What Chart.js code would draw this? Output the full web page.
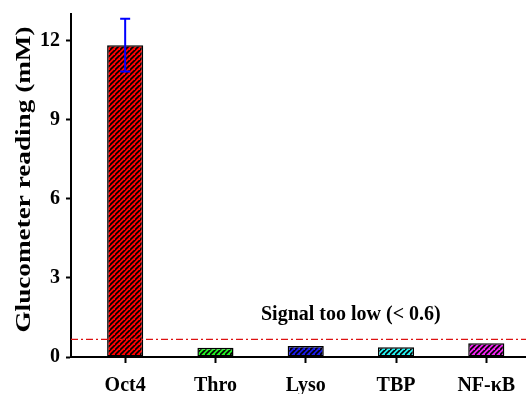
<!DOCTYPE html>
<html>
<head>
<meta charset="utf-8">
<script src="https://cdn.jsdelivr.net/npm/chart.js@4/dist/chart.umd.min.js"></script>
<style>
html,body{margin:0;padding:0;background:#fff;}
#wrap{width:526px;height:394px;position:relative;}
</style>
</head>
<body>
<div id="wrap"><canvas id="c" width="526" height="394"></canvas></div>
<script>
const categories = ['Oct4', 'Thro', 'Lyso', 'TBP', 'NF-\u03BAB'];
const readings = [11.82, 0.35, 0.42, 0.37, 0.52];
const errors = [1.0, 0, 0, 0, 0];
const barColors = ['#ff0000', '#22ee22', '#1a1ae6', '#22eeee', '#ee22ee'];
const yTicks = [0, 3, 6, 9, 12];
const yMax = 13;
const xRange = [-0.6, 4.44];
const thresholdValue = 0.67;
const thresholdLabel = 'Signal too low (< 0.6)';
const thresholdLabelPos = [2.5, 1.6];
const yTitle = 'Glucometer reading (mM)';

const FONT = '"Liberation Serif", "Times New Roman", serif';

function hatch(color) {
  const s = 5;
  const cv = document.createElement('canvas');
  cv.width = s; cv.height = s;
  const g = cv.getContext('2d');
  g.fillStyle = color;
  g.fillRect(0, 0, s, s);
  g.strokeStyle = '#000';
  g.lineWidth = 1.6;
  g.beginPath();
  g.moveTo(-1, s + 1); g.lineTo(s + 1, -1);
  g.moveTo(-1 - s, s + 1); g.lineTo(1, -1);
  g.moveTo(s - 1, 2 * s + 1); g.lineTo(2 * s + 1, s - 1);
  g.stroke();
  return g.createPattern(cv, 'repeat');
}

const ctx = document.getElementById('c').getContext('2d');

const extras = {
  id: 'extras',
  afterDatasetsDraw(chart) {
    const c = chart.ctx;
    const xs = chart.scales.x, ys = chart.scales.y;
    const area = chart.chartArea;
    // threshold line
    c.save();
    c.strokeStyle = '#dd1111';
    c.lineWidth = 1.2;
    c.setLineDash([7, 3, 2, 3]);
    const ty = ys.getPixelForValue(thresholdValue);
    c.beginPath();
    c.moveTo(area.left, ty); c.lineTo(area.right, ty);
    c.stroke();
    c.restore();
    // error bars
    c.save();
    c.strokeStyle = '#0000ff';
    c.lineWidth = 2;
    readings.forEach((v, i) => {
      const e = errors[i];
      if (!e) return;
      const x = xs.getPixelForValue(i);
      const y1 = ys.getPixelForValue(v + e), y2 = ys.getPixelForValue(v - e);
      c.beginPath();
      c.moveTo(x, y1); c.lineTo(x, y2);
      c.moveTo(x - 5, y1); c.lineTo(x + 5, y1);
      c.moveTo(x - 5, y2); c.lineTo(x + 5, y2);
      c.stroke();
    });
    c.restore();
    // label
    c.save();
    c.fillStyle = '#000';
    c.font = 'bold 20px ' + FONT;
    c.textAlign = 'center';
    c.textBaseline = 'middle';
    c.fillText(thresholdLabel, xs.getPixelForValue(thresholdLabelPos[0]), ys.getPixelForValue(thresholdLabelPos[1]));
    c.restore();
    // y title
    c.save();
    c.fillStyle = '#000';
    c.font = 'bold 20px ' + FONT;
    c.textAlign = 'center';
    c.textBaseline = 'middle';
    c.translate(25, (area.top + area.bottom) / 2 - 6);
    c.rotate(-Math.PI / 2);
    c.scale(1.36, 1);
    c.fillText(yTitle, 0, 0);
    c.restore();
  }
};

new Chart(ctx, {
  type: 'bar',
  data: {
    datasets: [{
      data: readings.map((v, i) => ({ x: i, y: v })),
      backgroundColor: barColors.map(hatch),
      borderColor: '#000',
      borderWidth: 1.5,
      borderSkipped: false,
      barPercentage: 0.4,
      categoryPercentage: 1.0
    }]
  },
  options: {
    responsive: false,
    animation: false,
    layout: { padding: { top: 14, right: 0, left: 0, bottom: 0 } },
    plugins: { legend: { display: false }, tooltip: { enabled: false } },
    scales: {
      x: {
        type: 'linear',
        offset: false,
        min: xRange[0], max: xRange[1],
        grid: { display: true, offset: false, drawOnChartArea: false, tickLength: 6, tickColor: '#000', tickWidth: 2 },
        border: { color: '#000', width: 2 },
        ticks: {
          color: '#000', font: { family: FONT, size: 20, weight: 'bold' }, padding: 11,
          callback: (v) => categories[v] !== undefined ? categories[v] : ''
        },
        afterBuildTicks(s) { s.ticks = categories.map((_, i) => ({ value: i })); },
        afterFit(s) { s.height = 37; s.paddingLeft = 0; s.paddingRight = 0; }
      },
      y: {
        min: 0, max: yMax,
        grid: { display: true, drawOnChartArea: false, tickLength: 5, tickColor: '#000', tickWidth: 2 },
        border: { color: '#000', width: 2 },
        ticks: { color: '#000', font: { family: FONT, size: 20, weight: 'bold' }, padding: 6 },
        afterBuildTicks(s) { s.ticks = yTicks.map(v => ({ value: v })); },
        afterFit(s) { s.width = 71; s.paddingTop = 0; s.paddingBottom = 0; }
      }
    }
  },
  plugins: [extras]
});
</script>
</body>
</html>
